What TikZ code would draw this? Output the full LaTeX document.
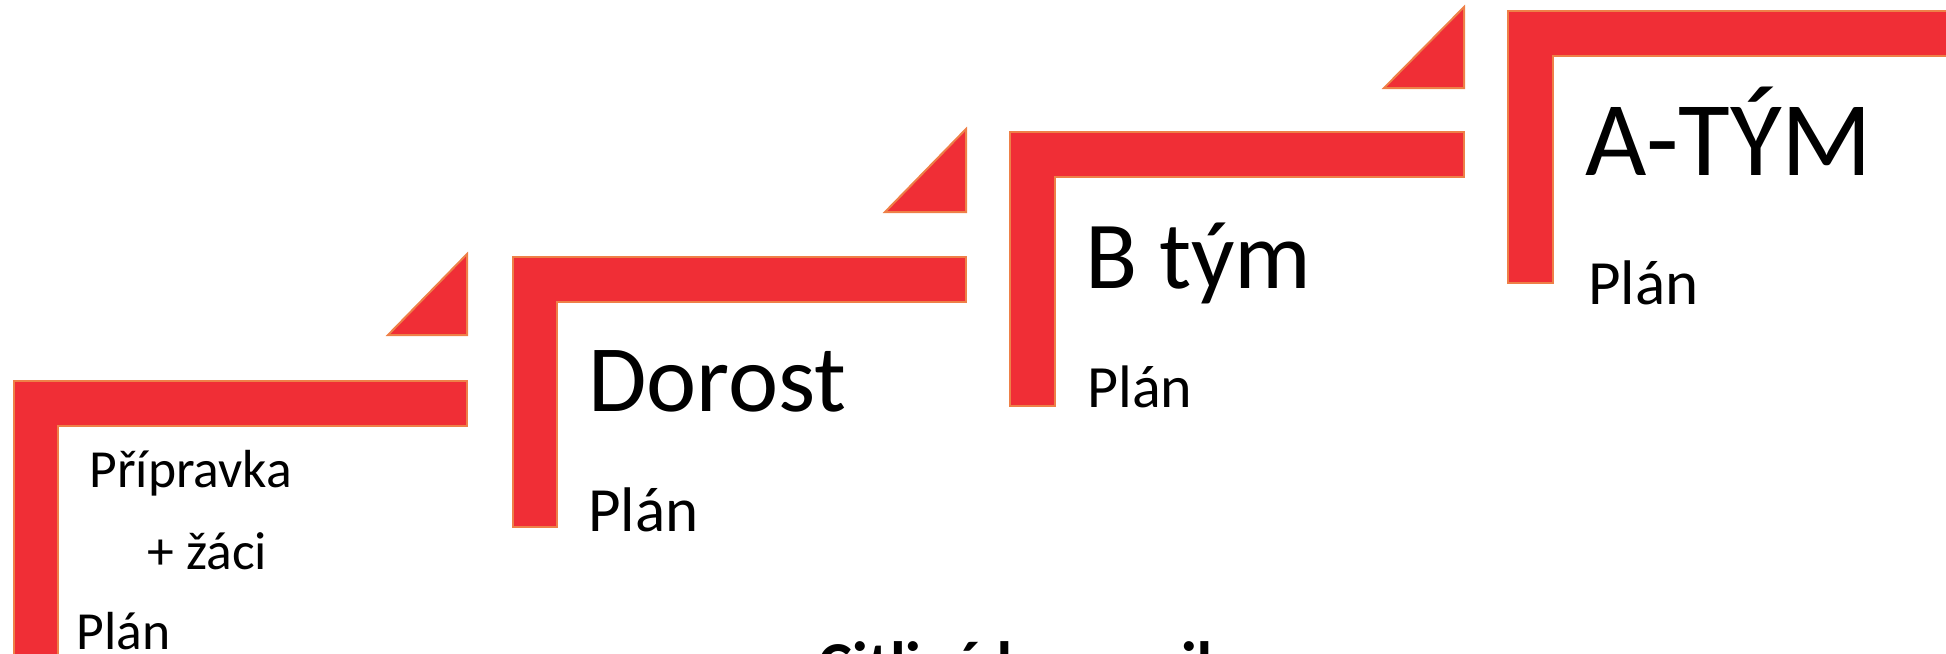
\documentclass[tikz,border=0pt]{standalone}
\usepackage{fontspec}
\setmainfont{Carlito}
\usepackage{xcolor}
\usepackage{tikz}
\definecolor{stepred}{RGB}{240,46,54}
\definecolor{steprim}{RGB}{238,128,72}

\begin{document}
\begin{tikzpicture}[x=0.5pt,y=-0.5pt,
    stair/.style={fill=stepred,draw=steprim,line width=1pt},
    wedge/.style={fill=stepred,draw=steprim,line width=1pt},
    steptitle/.style={anchor=base west,inner sep=0pt,font=\fontsize{47.5}{57}\selectfont},
    plan/.style={anchor=base west,inner sep=0pt,font=\fontsize{31.5}{38}\selectfont},
    smalltext/.style={anchor=base west,inner sep=0pt,font=\fontsize{26.8}{32}\selectfont}
    ]
    \useasboundingbox (0,0) rectangle (1946,653);
    % Step 1
    \draw[stair] (14,670) -- (14,381) -- (467,381) -- (467,426) -- (58,426) -- (58,670);
    \draw[wedge] (388,335) -- (467,254) -- (467,335) -- cycle;
    % Step 2
    \draw[stair] (513,527) -- (513,257) -- (966,257) -- (966,302) -- (557,302) -- (557,527) -- cycle;
    \draw[wedge] (885,212) -- (966,129) -- (966,212) -- cycle;
    % Step 3
    \draw[stair] (1010,406) -- (1010,132) -- (1464,132) -- (1464,177) -- (1055,177) -- (1055,406) -- cycle;
    \draw[wedge] (1384,88) -- (1464,7) -- (1464,88) -- cycle;
    % Step 4
    \draw[stair] (1508,283) -- (1508,11) -- (1960,11) -- (1960,56) -- (1553,56) -- (1553,283) -- cycle;
    % Labels
    \node[smalltext] (pripravka) at (89,487) {Přípravka};
    \node[smalltext] (zaci) at (147,569) {+ žáci};
    \node[smalltext] (plan1) at (76,649) {Plán};
    \node[steptitle] (dorost) at (588,411) {Dorost};
    \node[plan] (plan2) at (588,531) {Plán};
    \node[steptitle,font=\fontsize{48}{58}\selectfont] (btym) at (1085,288) {B tým};
    \node[plan,font=\fontsize{30}{36}\selectfont] (plan3) at (1087,407) {Plán};
    \node[steptitle,font=\fontsize{53}{64}\selectfont] (atym) at (1585,175) {A-TÝM};
    \node[plan] (plan4) at (1588,304) {Plán};
    % Heading (cut off at the bottom)
    \node[anchor=base west,inner sep=0pt,font=\fontsize{32}{38}\selectfont\bfseries] (citliva) at (818,686) {Citlivá komunikace};
\end{tikzpicture}
\end{document}
